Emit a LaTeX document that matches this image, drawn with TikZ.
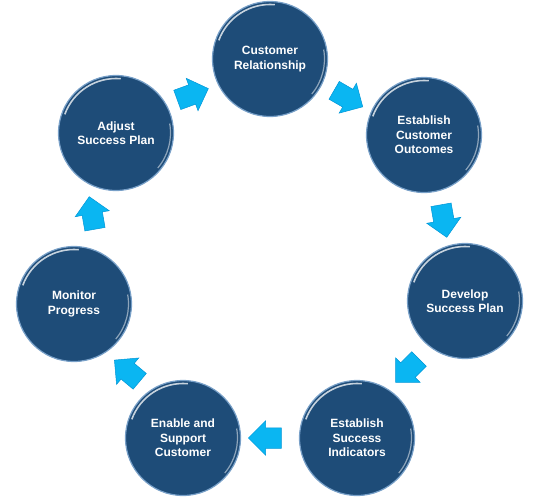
\documentclass[tikz,border=0pt]{standalone}
\usepackage{fontspec}
\setmainfont{Liberation Sans}
\usetikzlibrary{shapes.arrows}
\definecolor{ballblue}{RGB}{30,76,120}
\definecolor{rimblue}{RGB}{120,160,200}
\definecolor{arrowcyan}{RGB}{10,182,242}
\definecolor{arrowdark}{RGB}{0,150,215}
\tikzset{
  ball/.style={circle, fill=ballblue, draw=rimblue, line width=1.2pt, minimum size=115pt, inner sep=0pt,
    text=white, font=\bfseries\fontsize{12}{14.5}\selectfont, align=center},
  flowarrow/.style={single arrow, fill=arrowcyan, draw=arrowdark, line width=0.5pt, minimum height=33pt,
    inner xsep=0pt, inner ysep=10pt, single arrow head extend=7pt, single arrow head indent=0pt, anchor=center},
}
\begin{document}
\begin{tikzpicture}[x=1pt,y=-1pt]
\useasboundingbox (0,0) rectangle (538,498);
\node[ball] (cr) at (270,59) {Customer\\Relationship};
\node[ball] (eco) at (424,135) {Establish\\Customer\\Outcomes};
\node[ball] (dsp) at (465,301) {Develop\\Success Plan};
\node[ball] (esi) at (357,438) {Establish\\Success\\Indicators};
\node[ball] (esc) at (183,438) {Enable and\\Support\\Customer};
\node[ball] (mp) at (74,304) {Monitor\\Progress};
\node[ball] (asp) at (116,133) {Adjust\\Success Plan};
% glossy highlights
\foreach \n in {cr,eco,dsp,esi,esc,mp,asp}{
  \draw[white, opacity=0.75, line width=1.6pt] ([shift={(200:54.5)}]\n.center) arc[start angle=200, end angle=275, radius=54.5];
  \draw[white, opacity=0.5, line width=1.2pt] ([shift={(-10:54.5)}]\n.center) arc[start angle=-10, end angle=40, radius=54.5];
}
\node[flowarrow, rotate=20] (a1) at (188,96) {};
\node[flowarrow, rotate=-30] (a2) at (344,96) {};
\node[flowarrow, rotate=-80] (a3) at (443,216) {};
\node[flowarrow, rotate=225] (a4) at (411,367) {};
\node[flowarrow, rotate=180] (a5) at (270,438) {};
\node[flowarrow, rotate=140] (a6) at (131,374) {};
\node[flowarrow, rotate=100] (a7) at (93,218) {};
\end{tikzpicture}
\end{document}
